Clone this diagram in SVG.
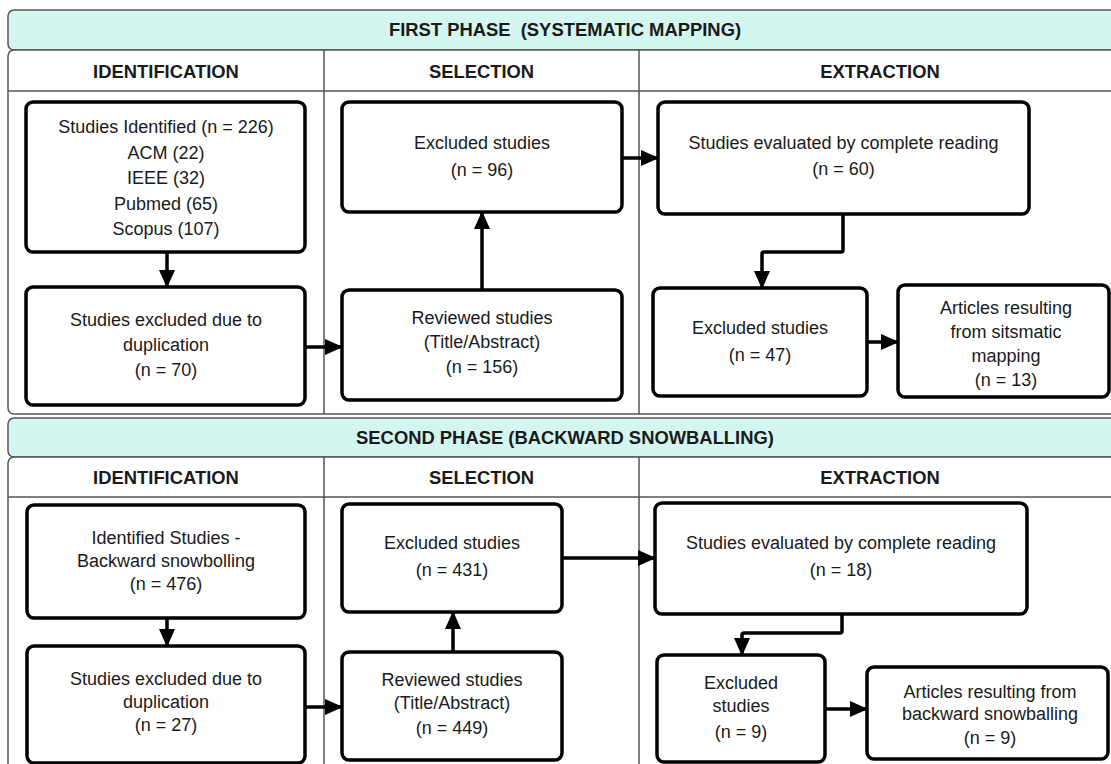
<svg xmlns="http://www.w3.org/2000/svg" width="1111" height="764" viewBox="0 0 1111 764">
<defs>
<style>
.phase{fill:#d4f6f0;stroke:#555;stroke-width:1.5}
.lane{fill:#fff;stroke:#555;stroke-width:1.5}
.sep{stroke:#555;stroke-width:1.5;fill:none}
.box{fill:#fff;stroke:#000;stroke-width:3.5}
.t{font-family:"Liberation Sans",Arial,sans-serif;font-size:18px;fill:#1a1a1a;text-anchor:middle}
.h{font-family:"Liberation Sans",Arial,sans-serif;font-size:18.4px;font-weight:bold;fill:#1a1a1a;text-anchor:middle;white-space:pre}
.c{stroke:#000;stroke-width:3.5;fill:none;marker-end:url(#ah)}
</style>
<marker id="ah" markerUnits="userSpaceOnUse" markerWidth="18" markerHeight="16" refX="17" refY="8" orient="auto">
<path d="M0,0 L18,8 L0,16 Z" fill="#000"/>
</marker>
</defs>

<g id="phase1-frame">
<rect class="phase" x="8" y="10" width="1120" height="40" rx="6"/>
<text class="h" x="565" y="36" xml:space="preserve">FIRST PHASE  (SYSTEMATIC MAPPING)</text>
<rect class="lane" x="8" y="50" width="1120" height="364" rx="6"/>
<line class="sep" x1="8" y1="91" x2="1111" y2="91"/>
<line class="sep" x1="324" y1="50" x2="324" y2="414"/>
<line class="sep" x1="639" y1="50" x2="639" y2="414"/>
<text class="h" x="166" y="78">IDENTIFICATION</text>
<text class="h" x="481.5" y="78">SELECTION</text>
<text class="h" x="880" y="78">EXTRACTION</text>
</g>

<g id="phase2-frame">
<rect class="phase" x="8" y="418" width="1120" height="39" rx="6"/>
<text class="h" x="565" y="444">SECOND PHASE (BACKWARD SNOWBALLING)</text>
<rect class="lane" x="8" y="457" width="1120" height="320" rx="6"/>
<line class="sep" x1="8" y1="497" x2="1111" y2="497"/>
<line class="sep" x1="324" y1="457" x2="324" y2="764"/>
<line class="sep" x1="639" y1="457" x2="639" y2="764"/>
<text class="h" x="166" y="484">IDENTIFICATION</text>
<text class="h" x="481.5" y="484">SELECTION</text>
<text class="h" x="880" y="484">EXTRACTION</text>
</g>

<g id="connectors">
<path class="c" d="M167,252 L167,287"/>
<path class="c" d="M305,347 L342,347"/>
<path class="c" d="M482,290 L482,212"/>
<path class="c" d="M622,158 L658,158"/>
<path class="c" d="M843,214 L843,250 Q843,252 841,252 L764,252 Q762,252 762,254 L762,288"/>
<path class="c" d="M867,342 L898,342"/>
<path class="c" d="M167,618 L167,646"/>
<path class="c" d="M305,707 L342,707"/>
<path class="c" d="M453,652 L453,612"/>
<path class="c" d="M562,558 L655,558"/>
<path class="c" d="M842,614 L842,631 Q842,633 840,633 L744,633 Q742,633 742,635 L742,655"/>
<path class="c" d="M825,709 L867,709"/>
</g>

<g id="n-identified1">
<rect class="box" x="26" y="102" width="279" height="150" rx="7"/>
<text class="t" x="166" y="133">Studies Identified (n = 226)</text>
<text class="t" x="166" y="159">ACM (22)</text>
<text class="t" x="166" y="184">IEEE (32)</text>
<text class="t" x="166" y="210">Pubmed (65)</text>
<text class="t" x="166" y="235">Scopus (107)</text>
</g>
<g id="n-dup1">
<rect class="box" x="26" y="287" width="279" height="118" rx="7"/>
<text class="t" x="166" y="326">Studies excluded due to</text>
<text class="t" x="166" y="351">duplication</text>
<text class="t" x="166" y="376">(n = 70)</text>
</g>
<g id="n-excl1">
<rect class="box" x="342" y="102" width="280" height="110" rx="7"/>
<text class="t" x="482" y="149">Excluded studies</text>
<text class="t" x="482" y="176">(n = 96)</text>
</g>
<g id="n-rev1">
<rect class="box" x="342" y="290" width="280" height="110" rx="7"/>
<text class="t" x="482" y="324">Reviewed studies</text>
<text class="t" x="482" y="348">(Title/Abstract)</text>
<text class="t" x="482" y="373">(n = 156)</text>
</g>
<g id="n-eval1">
<rect class="box" x="658" y="102" width="371" height="112" rx="7"/>
<text class="t" x="843.5" y="149">Studies evaluated by complete reading</text>
<text class="t" x="843.5" y="175">(n = 60)</text>
</g>
<g id="n-excl1b">
<rect class="box" x="653" y="288" width="214" height="108" rx="7"/>
<text class="t" x="760" y="334">Excluded studies</text>
<text class="t" x="760" y="361">(n = 47)</text>
</g>
<g id="n-result1">
<rect class="box" x="898" y="285" width="211" height="112" rx="7"/>
<text class="t" x="1006" y="314">Articles resulting</text>
<text class="t" x="1006" y="338">from sitsmatic</text>
<text class="t" x="1006" y="362">mapping</text>
<text class="t" x="1006" y="386">(n = 13)</text>
</g>

<g id="n-identified2">
<rect class="box" x="27" y="505" width="278" height="113" rx="7"/>
<text class="t" x="166" y="544">Identified Studies -</text>
<text class="t" x="166" y="567">Backward snowbolling</text>
<text class="t" x="166" y="590">(n = 476)</text>
</g>
<g id="n-dup2">
<rect class="box" x="27" y="646" width="278" height="117" rx="7"/>
<text class="t" x="166" y="685">Studies excluded due to</text>
<text class="t" x="166" y="708">duplication</text>
<text class="t" x="166" y="731">(n = 27)</text>
</g>
<g id="n-excl2">
<rect class="box" x="342" y="504" width="220" height="108" rx="7"/>
<text class="t" x="452" y="549">Excluded studies</text>
<text class="t" x="452" y="576">(n = 431)</text>
</g>
<g id="n-rev2">
<rect class="box" x="342" y="652" width="220" height="108" rx="7"/>
<text class="t" x="452" y="686">Reviewed studies</text>
<text class="t" x="452" y="709">(Title/Abstract)</text>
<text class="t" x="452" y="734">(n = 449)</text>
</g>
<g id="n-eval2">
<rect class="box" x="655" y="503" width="372" height="111" rx="7"/>
<text class="t" x="841" y="549">Studies evaluated by complete reading</text>
<text class="t" x="841" y="576">(n = 18)</text>
</g>
<g id="n-excl2b">
<rect class="box" x="657" y="655" width="168" height="107" rx="7"/>
<text class="t" x="741" y="689">Excluded</text>
<text class="t" x="741" y="712">studies</text>
<text class="t" x="741" y="738">(n = 9)</text>
</g>
<g id="n-result2">
<rect class="box" x="867" y="667" width="241" height="92" rx="7"/>
<text class="t" x="990" y="698">Articles resulting from</text>
<text class="t" x="990" y="720">backward snowballing</text>
<text class="t" x="990" y="744">(n = 9)</text>
</g>
</svg>
